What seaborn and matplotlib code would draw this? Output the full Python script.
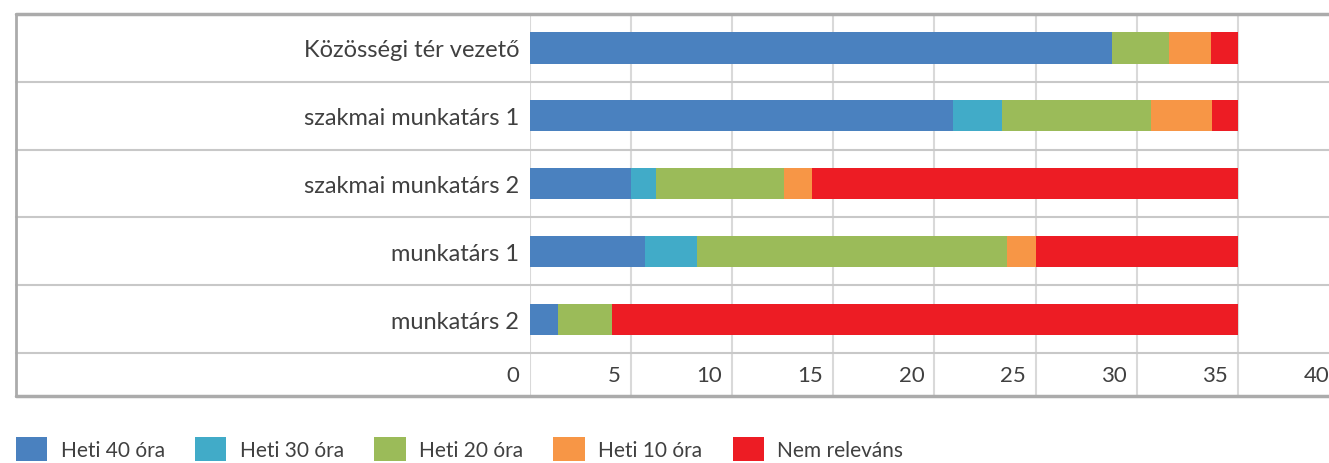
import matplotlib
matplotlib.use('Agg')
import matplotlib.pyplot as plt
import seaborn as sns
import pandas as pd
import numpy as np
from matplotlib.patches import Patch
from matplotlib.lines import Line2D
from matplotlib.transforms import offset_copy

# data
categories = ['Közösségi tér vezető', 'szakmai munkatárs 1', 'szakmai munkatárs 2',
              'munkatárs 1', 'munkatárs 2']
series = ['Heti 40 óra', 'Heti 30 óra', 'Heti 20 óra', 'Heti 10 óra', 'Nem releváns']
heti40 = [28.8, 20.9, 5.0, 5.7, 1.4]
heti30 = [0.0, 2.45, 1.25, 2.6, 0.0]
heti20 = [2.8, 7.35, 6.3, 15.3, 2.7]
heti10 = [2.05, 3.0, 1.4, 1.4, 0.0]
nem_rel = [1.35, 1.3, 21.05, 10.0, 30.9]
xticks = [0, 5, 10, 15, 20, 25, 30, 35, 40]
colors = ['#4A81BF', '#41ABC8', '#9BBB59', '#F79646', '#ED1C24']

sns.set_style('white')
plt.rcParams['font.family'] = ['Lato', 'DejaVu Sans']
txt = '#404040'

df = pd.DataFrame({'cat': categories, series[0]: heti40, series[1]: heti30,
                   series[2]: heti20, series[3]: heti10, series[4]: nem_rel})
cum = df[series].cumsum(axis=1)

W, H = 1329, 464
fig = plt.figure(figsize=(W / 100, H / 100), dpi=100)
ax_left, ax_top, ax_bot = 529.5, 15, 397
ax = fig.add_axes([ax_left / W, 1 - ax_bot / H, 1 - ax_left / W, (ax_bot - ax_top) / H])

# stacked bars: draw cumulative totals from the largest down
for s, c in reversed(list(zip(series, colors))):
    sns.barplot(x=cum[s], y=df['cat'], color=c, width=0.46, saturation=1,
                orient='h', ax=ax, zorder=3, linewidth=0)

extra = 43 / 68  # tick-label row height, in row units
ax.set_xticks(xticks)
ax.set_xlim(0, 39.5)
ax.set_ylim(4.5 + extra, -0.5)
ax.grid(axis='x', color='#D9D9D9', lw=1.5, zorder=0)
ax.grid(axis='y', visible=False)
for sp in ax.spines.values():
    sp.set_visible(False)
ax.set_xlabel('')
ax.set_ylabel('')
ax.tick_params(axis='x', labelbottom=False, length=0)
ax.tick_params(axis='y', length=0, pad=7.5, labelsize=17, labelcolor=txt)

# x tick labels inside bottom row, right-aligned before gridline
tr = offset_copy(ax.transData, fig=fig, x=-10, y=0, units='dots')
for v in xticks:
    ax.text(v, 4.5 + extra / 2, str(v), ha='right', va='center', fontsize=16,
            color=txt, transform=tr, clip_on=False)

# table row separators, running into label column
x0 = -(ax_left - 16) / (W - ax_left)
for yb in [0.5, 1.5, 2.5, 3.5, 4.5]:
    ax.axhline(yb, xmin=x0, xmax=1, color='#C8C8C8', lw=1.5, clip_on=False, zorder=1)

# outer border
bc = '#ABABAB'
fig.add_artist(Line2D([16 / W, 1], [1 - 15 / H] * 2, color=bc, lw=2.5))
fig.add_artist(Line2D([16 / W, 1], [1 - 397 / H] * 2, color=bc, lw=2.5))
fig.add_artist(Line2D([16 / W] * 2, [1 - 15 / H, 1 - 397 / H], color=bc, lw=2.0))

handles = [Patch(facecolor=c, edgecolor='none', label=s) for s, c in zip(series, colors)]
fig.legend(handles=handles, loc='upper left', bbox_to_anchor=(16 / W, 1 - 438 / H),
           ncol=5, frameon=False, fontsize=15, handlelength=1.5, handleheight=1.4,
           handletextpad=0.65, columnspacing=1.45, borderpad=0, borderaxespad=0,
           labelcolor=txt)

fig.savefig('out.png', dpi=100)
